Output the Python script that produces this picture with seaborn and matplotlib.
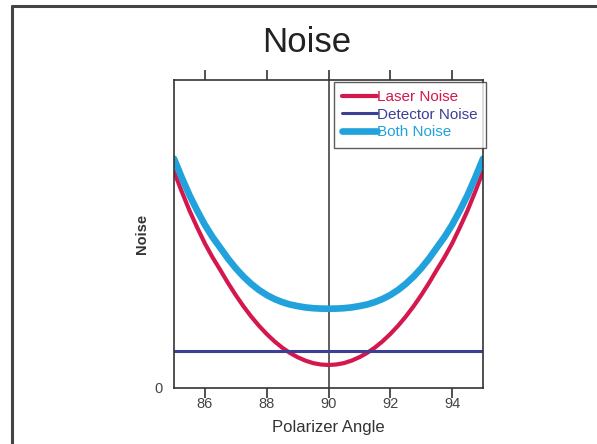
import matplotlib
matplotlib.use("Agg")
import matplotlib.pyplot as plt
from matplotlib.lines import Line2D
import seaborn as sns
import pandas as pd

# ---- data (quarter-degree readings) ----
angles = [85.0, 85.25, 85.5, 85.75, 86.0, 86.25, 86.5, 86.75, 87.0, 87.25,
          87.5, 87.75, 88.0, 88.25, 88.5, 88.75, 89.0, 89.25, 89.5, 89.75,
          90.0,
          90.25, 90.5, 90.75, 91.0, 91.25, 91.5, 91.75, 92.0, 92.25, 92.5,
          92.75, 93.0, 93.25, 93.5, 93.75, 94.0, 94.25, 94.5, 94.75, 95.0]
laser_noise = [216, 196, 177, 160, 144, 130, 117.4, 104.4, 92.3, 81.1,
               70.9, 61.7, 53.5, 46.2, 39.9, 34.6, 30.3, 26.9, 24.4, 23.0,
               22.5,
               23.0, 24.4, 26.9, 30.3, 34.6, 39.9, 46.2, 53.5, 61.7, 70.9,
               81.1, 92.3, 104.4, 117.4, 130, 144, 160, 177, 196, 216]
detector_noise = [36.8] * len(angles)
both_noise = [228.8, 210.0, 192.4, 176.9, 162.6, 150.3, 139.6, 128.8, 119.2, 110.8,
              103.6, 97.5, 92.5, 88.5, 85.4, 83.0, 81.4, 80.1, 79.3, 78.9,
              78.8,
              78.9, 79.3, 80.1, 81.4, 83.0, 85.4, 88.5, 92.5, 97.5, 103.6,
              110.8, 119.2, 128.8, 139.6, 150.3, 162.6, 176.9, 192.4, 210.0, 228.8]
series_names = ["Laser Noise", "Detector Noise", "Both Noise"]
x_ticks = [86, 88, 90, 92, 94]
y_ticks = [0]

colors = {"Laser Noise": "#d4174c", "Detector Noise": "#3b3f96", "Both Noise": "#21a2dd"}
widths = {"Laser Noise": 3.0, "Detector Noise": 2.2, "Both Noise": 4.8}

df = pd.concat([
    pd.DataFrame({"Polarizer Angle": angles, "Noise": vals, "Series": name})
    for name, vals in zip(series_names, [laser_noise, detector_noise, both_noise])
], ignore_index=True)

sns.set_theme(style="white")
plt.rcParams["font.family"] = ["Liberation Sans", "DejaVu Sans"]

fig = plt.figure(figsize=(5.97, 4.44), dpi=100)
ax = fig.add_axes([174 / 597, 1 - 387.5 / 444, (483 - 174) / 597, (387.5 - 80.5) / 444])

for name in series_names:
    sub = df[df["Series"] == name]
    sns.lineplot(data=sub, x="Polarizer Angle", y="Noise", ax=ax,
                 color=colors[name], linewidth=widths[name], label=name,
                 solid_capstyle="round", solid_joinstyle="round", sort=False)

ax.axvline(90, color="#333333", linewidth=1.1, zorder=1)

ax.set_xlim(85, 95)
ax.set_ylim(0, 307)
ax.set_xticks(x_ticks)
ax.set_yticks(y_ticks)
ax.tick_params(axis="x", which="both", direction="out", length=7, width=1.2,
               color="#333333", labelsize=10.5, labelcolor="#444444", pad=0,
               top=True, bottom=True)
ax.tick_params(axis="y", length=0, labelsize=10.5, labelcolor="#444444", pad=8)
for s in ax.spines.values():
    s.set_color("#333333")
    s.set_linewidth(1.2)

ax.set_xlabel("Polarizer Angle", fontsize=12, color="#333333", labelpad=6)
ax.set_ylabel("Noise", fontsize=10.5, fontweight="bold", color="#333333", labelpad=4)

fig.text(307 / 597, 1 - 43 / 444, "Noise", fontsize=25, ha="center", va="center",
         color="#222222")

leg = ax.legend(loc="upper right", bbox_to_anchor=(1.01, 0.995), frameon=True,
                fontsize=11, handlelength=2.3, handletextpad=0.0,
                labelspacing=0.22, borderpad=0.55, borderaxespad=0.0, fancybox=False)
leg.get_frame().set_edgecolor("#333333")
leg.get_frame().set_linewidth(1.0)
for txt, name in zip(leg.get_texts(), series_names):
    txt.set_color(colors[name])

# scanned page border
fig.add_artist(Line2D([12 / 597, 1.0], [1 - 6 / 444, 1 - 6 / 444], color="#444444",
                      linewidth=2.2, transform=fig.transFigure))
fig.add_artist(Line2D([12 / 597, 12 / 597], [0, 1 - 6 / 444], color="#444444",
                      linewidth=2.2, transform=fig.transFigure))

fig.savefig("out.png", dpi=100)
